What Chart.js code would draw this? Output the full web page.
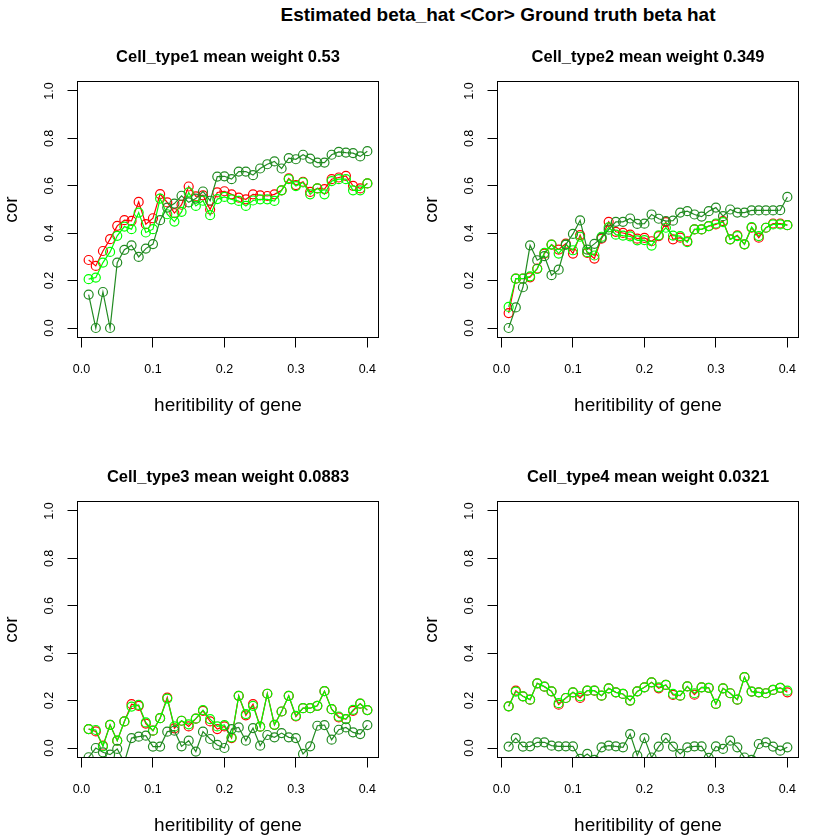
<!DOCTYPE html>
<html>
<head>
<meta charset="utf-8">
<title>Estimated beta_hat &lt;Cor&gt; Ground truth beta hat</title>
<script src="https://cdn.jsdelivr.net/npm/chart.js@4.4.1/dist/chart.umd.min.js"></script>
<style>
  body { margin: 0; background: #fff; }
  #page { position: relative; width: 840px; height: 840px; font-family: "Liberation Sans", Arial, sans-serif; }
  #main-title { position: absolute; top: 5px; left: 498px; transform: translateX(-50%); white-space: nowrap; font-weight: bold; font-size: 19px; line-height: 20px; color: #000; }
  canvas { position: absolute; }
</style>
</head>
<body>
<div id="page">
  <div id="main-title">Estimated beta_hat &lt;Cor&gt; Ground truth beta hat</div>
  <canvas id="panel1" width="420" height="420" style="left:0;top:0"></canvas>
  <canvas id="panel2" width="420" height="420" style="left:420px;top:0"></canvas>
  <canvas id="panel3" width="420" height="420" style="left:0;top:420px"></canvas>
  <canvas id="panel4" width="420" height="420" style="left:420px;top:420px"></canvas>
</div>
<script>
// datos
const heritability = [0.01, 0.02, 0.03, 0.04, 0.05, 0.06, 0.07, 0.08, 0.09, 0.10,
                      0.11, 0.12, 0.13, 0.14, 0.15, 0.16, 0.17, 0.18, 0.19, 0.20,
                      0.21, 0.22, 0.23, 0.24, 0.25, 0.26, 0.27, 0.28, 0.29, 0.30,
                      0.31, 0.32, 0.33, 0.34, 0.35, 0.36, 0.37, 0.38, 0.39, 0.40];
const xTicks = [0, 0.1, 0.2, 0.3, 0.4];
const yTicks = [0, 0.2, 0.4, 0.6, 0.8, 1.0];
const panelTitles = ['Cell_type1 mean weight 0.53', 'Cell_type2 mean weight 0.349',
                     'Cell_type3 mean weight 0.0883', 'Cell_type4 mean weight 0.0321'];

const ct1Red = [0.287, 0.262, 0.325, 0.375, 0.431, 0.455, 0.452, 0.532, 0.438, 0.463,
                0.565, 0.530, 0.485, 0.520, 0.597, 0.555, 0.560, 0.500, 0.572, 0.577,
                0.564, 0.550, 0.543, 0.564, 0.560, 0.557, 0.564, 0.581, 0.631, 0.603,
                0.617, 0.574, 0.589, 0.586, 0.628, 0.635, 0.642, 0.600, 0.589, 0.610];
const ct1Lime = [0.206, 0.213, 0.276, 0.321, 0.389, 0.428, 0.417, 0.487, 0.403, 0.417,
                 0.546, 0.480, 0.449, 0.490, 0.572, 0.515, 0.537, 0.476, 0.544, 0.553,
                 0.543, 0.536, 0.515, 0.538, 0.543, 0.543, 0.536, 0.581, 0.628, 0.599,
                 0.614, 0.564, 0.589, 0.564, 0.620, 0.628, 0.628, 0.581, 0.581, 0.610];
const ct1Dark = [0.141, 0.000, 0.152, 0.000, 0.276, 0.330, 0.349, 0.300, 0.335, 0.354,
                 0.455, 0.508, 0.525, 0.558, 0.530, 0.546, 0.576, 0.537, 0.639, 0.640,
                 0.628, 0.660, 0.660, 0.645, 0.673, 0.691, 0.703, 0.673, 0.717, 0.712,
                 0.731, 0.715, 0.698, 0.698, 0.731, 0.743, 0.740, 0.738, 0.724, 0.746];

const ct2Red = [0.063, 0.208, 0.208, 0.214, 0.251, 0.314, 0.352, 0.331, 0.356, 0.314,
                0.392, 0.317, 0.293, 0.377, 0.448, 0.406, 0.401, 0.394, 0.377, 0.380,
                0.366, 0.388, 0.447, 0.374, 0.381, 0.366, 0.416, 0.416, 0.430, 0.437,
                0.451, 0.374, 0.391, 0.353, 0.423, 0.381, 0.423, 0.441, 0.441, 0.434];
const ct2Lime = [0.089, 0.208, 0.208, 0.218, 0.249, 0.317, 0.352, 0.314, 0.352, 0.328,
                 0.385, 0.320, 0.306, 0.385, 0.425, 0.394, 0.390, 0.387, 0.370, 0.371,
                 0.348, 0.391, 0.423, 0.390, 0.388, 0.362, 0.416, 0.416, 0.430, 0.441,
                 0.447, 0.374, 0.388, 0.353, 0.426, 0.388, 0.423, 0.437, 0.437, 0.434];
const ct2Dark = [0.000, 0.087, 0.172, 0.349, 0.286, 0.303, 0.223, 0.246, 0.352, 0.397,
                 0.454, 0.331, 0.355, 0.380, 0.415, 0.448, 0.448, 0.462, 0.439, 0.440,
                 0.479, 0.461, 0.451, 0.453, 0.487, 0.493, 0.479, 0.470, 0.493, 0.508,
                 0.472, 0.500, 0.487, 0.487, 0.496, 0.496, 0.496, 0.496, 0.497, 0.553];

const ct3Red = [0.080, 0.070, 0.010, 0.098, 0.031, 0.112, 0.185, 0.178, 0.103, 0.073,
                0.126, 0.213, 0.083, 0.115, 0.091, 0.124, 0.157, 0.112, 0.080, 0.091,
                0.042, 0.220, 0.138, 0.185, 0.090, 0.229, 0.098, 0.154, 0.220, 0.133,
                0.168, 0.168, 0.178, 0.240, 0.164, 0.129, 0.122, 0.157, 0.187, 0.160];
const ct3Lime = [0.080, 0.076, 0.007, 0.098, 0.031, 0.112, 0.175, 0.182, 0.108, 0.073,
                 0.126, 0.208, 0.091, 0.115, 0.100, 0.124, 0.160, 0.122, 0.091, 0.097,
                 0.045, 0.220, 0.143, 0.178, 0.090, 0.229, 0.098, 0.154, 0.220, 0.136,
                 0.168, 0.168, 0.178, 0.240, 0.164, 0.133, 0.122, 0.161, 0.187, 0.160];
const ct3Dark = [-0.039, 0.000, -0.018, -0.028, -0.004, -0.060, 0.042, 0.048, 0.052, 0.006,
                 0.006, 0.069, 0.073, 0.007, 0.031, -0.015, 0.069, 0.038, 0.013, 0.000,
                 0.080, 0.087, 0.031, 0.084, 0.010, 0.055, 0.045, 0.063, 0.045, 0.042,
                 -0.025, 0.007, 0.094, 0.097, 0.035, 0.077, 0.087, 0.066, 0.059, 0.097];

const ct4Red = [0.176, 0.242, 0.218, 0.204, 0.273, 0.259, 0.239, 0.183, 0.211, 0.235,
                0.211, 0.242, 0.242, 0.221, 0.252, 0.235, 0.228, 0.200, 0.239, 0.256,
                0.277, 0.252, 0.266, 0.224, 0.221, 0.260, 0.225, 0.256, 0.254, 0.186,
                0.252, 0.231, 0.204, 0.299, 0.238, 0.235, 0.231, 0.245, 0.254, 0.235];
const ct4Lime = [0.176, 0.238, 0.218, 0.204, 0.273, 0.259, 0.239, 0.189, 0.211, 0.235,
                 0.218, 0.242, 0.242, 0.221, 0.252, 0.235, 0.228, 0.200, 0.239, 0.256,
                 0.277, 0.256, 0.266, 0.228, 0.221, 0.260, 0.231, 0.256, 0.254, 0.186,
                 0.252, 0.231, 0.204, 0.299, 0.238, 0.235, 0.231, 0.245, 0.254, 0.242];
const ct4Dark = [0.006, 0.042, 0.006, 0.007, 0.024, 0.024, 0.010, 0.007, 0.007, 0.007,
                 -0.046, -0.025, -0.050, 0.003, 0.010, 0.007, 0.003, 0.059, -0.032, 0.042,
                 -0.040, 0.006, 0.042, 0.006, -0.025, 0.003, 0.007, 0.007, -0.042, 0.007,
                 -0.004, 0.031, 0.003, -0.040, -0.050, 0.017, 0.024, 0.006, -0.011, 0.003];

const FONT = '"Liberation Sans", Arial, sans-serif';

// marco negro alrededor del area de dibujo (como box() de R)
const boxPlugin = {
    id: 'box',
    afterDatasetsDraw(chart) {
        const {ctx, chartArea: a} = chart;
        ctx.save();
        ctx.strokeStyle = '#000';
        ctx.lineWidth = 1;
        ctx.strokeRect(a.left, a.top, a.right - a.left, a.bottom - a.top);
        ctx.restore();
    }
};

function series(values, color) {
    return {
        data: heritability.map((h, i) => ({x: h, y: values[i]})),
        borderColor: color,
        pointBorderColor: color,
        backgroundColor: 'transparent',
        pointBackgroundColor: 'transparent',
        borderWidth: 1.2,
        pointRadius: 4.5,
        pointHoverRadius: 4.5,
        pointBorderWidth: 1.2,
        tension: 0,
        clip: 0
    };
}

const tickGrid = { drawOnChartArea: false, drawTicks: true, tickLength: 10, tickColor: '#000', tickWidth: 1 };

function drawPanel(id, title, red, lime, dark) {
    new Chart(document.getElementById(id), {
        type: 'line',
        // el primer dataset se pinta encima
        data: { datasets: [series(dark, '#228B22'), series(lime, '#00FF00'), series(red, '#FF0000')] },
        options: {
            responsive: false,
            animation: false,
            events: [],
            layout: { padding: { left: 0, right: 41.5, top: 0, bottom: 0 } },
            plugins: {
                legend: { display: false },
                tooltip: { enabled: false },
                title: {
                    display: true, text: title, fullSize: false, color: '#000',
                    font: { family: FONT, size: 16.5, weight: 'bold' },
                    padding: { top: 47.5, bottom: 14.2 }
                }
            },
            scales: {
                x: {
                    type: 'linear', min: -0.0056, max: 0.4156,
                    afterBuildTicks: s => { s.ticks = xTicks.map(v => ({value: v})); },
                    afterFit: s => { s.height = 82.5; },
                    grid: tickGrid,
                    border: { display: false },
                    ticks: { color: '#000', font: { family: FONT, size: 12.5 }, padding: 14.5,
                             maxRotation: 0, autoSkip: false, callback: v => v.toFixed(1) },
                    title: { display: true, text: 'heritibility of gene', color: '#000',
                             font: { family: FONT, size: 19 }, padding: { top: 0, bottom: 3 } }
                },
                y: {
                    type: 'linear', min: -0.04, max: 1.04,
                    afterBuildTicks: s => { s.ticks = yTicks.map(v => ({value: v})); },
                    afterFit: s => { s.width = 77.5; },
                    grid: tickGrid,
                    border: { display: false },
                    ticks: { color: '#000', font: { family: FONT, size: 12.5 }, padding: 9.5,
                             minRotation: 90, maxRotation: 90, crossAlign: 'center', autoSkip: false,
                             callback: v => v.toFixed(1) },
                    title: { display: true, text: 'cor', color: '#000',
                             font: { family: FONT, size: 19 }, padding: { top: 0, bottom: 0 } }
                }
            }
        },
        plugins: [boxPlugin]
    });
}

drawPanel('panel1', panelTitles[0], ct1Red, ct1Lime, ct1Dark);
drawPanel('panel2', panelTitles[1], ct2Red, ct2Lime, ct2Dark);
drawPanel('panel3', panelTitles[2], ct3Red, ct3Lime, ct3Dark);
drawPanel('panel4', panelTitles[3], ct4Red, ct4Lime, ct4Dark);
</script>
</body>
</html>
